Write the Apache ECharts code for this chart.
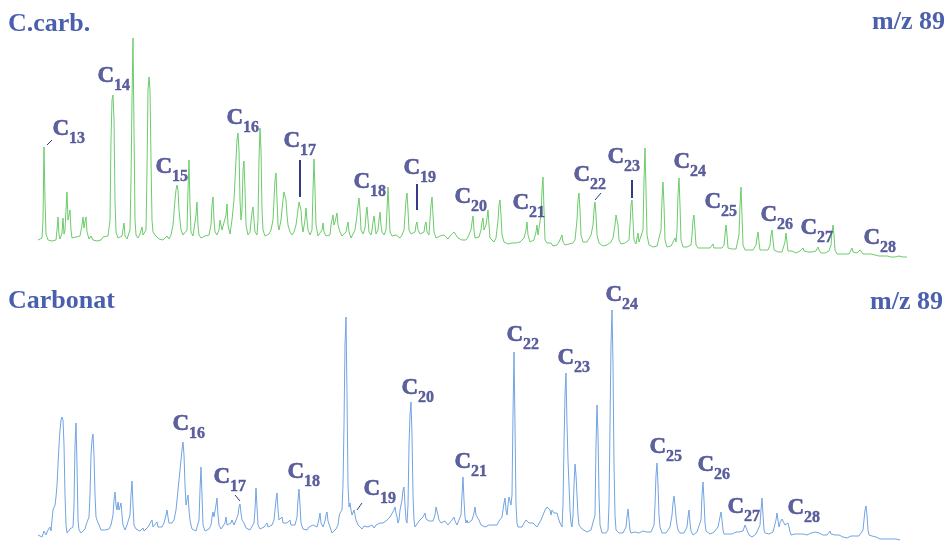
<!DOCTYPE html>
<html>
<head>
<meta charset="utf-8">
<script src="https://cdn.jsdelivr.net/npm/echarts@6/dist/echarts.min.js"></script>
<style>html,body{margin:0;padding:0;background:#fff}#c{width:949px;height:545px}</style>
</head>
<body>
<div id="c"></div>
<script>
// Retention time (arbitrary units) and signal for the C.carb. trace (m/z 89)
const ccarbTrace = [[38,20],[40,21],[42,22],[43,40],[44,113],[45,60],[46,26],[48,20],[50,22],[52,19],[54,21],[56,20],[57,30],[58,43],[59,25],[60,21],[62,27],[63,42],[64,26],[65,30],[66,50],[67,68],[68,40],[69,45],[70,50],[71,30],[72,22],[74,20],[76,23],[78,21],[80,24],[82,35],[83,43],[84,32],[85,38],[86,43],[87,28],[89,21],[91,24],[93,20],[95,22],[97,19],[99,21],[101,20],[103,23],[105,21],[108,24],[110,40],[111,120],[112,160],[113,165],[114,140],[115,60],[116,28],[118,22],[120,21],[122,24],[124,37],[125,24],[127,21],[129,22],[130,30],[131,80],[132,160],[133,222],[134,130],[135,40],[136,25],[138,22],[140,26],[142,33],[143,25],[145,23],[146,30],[147,90],[148,170],[149,183],[150,170],[151,100],[152,40],[153,28],[155,25],[157,24],[159,21],[161,23],[163,20],[165,22],[167,24],[169,21],[171,25],[173,35],[175,60],[176,70],[177,75],[178,70],[179,50],[180,40],[181,30],[183,25],[185,24],[187,30],[188,70],[189,100],[190,55],[191,28],[193,24],[195,26],[196,45],[197,58],[198,35],[199,25],[201,22],[203,21],[205,24],[207,22],[209,25],[211,35],[212,55],[213,63],[214,40],[215,28],[217,25],[219,30],[220,40],[221,38],[222,30],[224,28],[226,45],[227,56],[228,35],[230,26],[232,40],[234,60],[235,80],[236,100],[237,120],[238,127],[239,110],[240,60],[241,40],[242,50],[243,90],[244,99],[245,70],[246,35],[248,25],[250,28],[251,38],[252,48],[253,53],[254,40],[255,28],[257,25],[258,40],[259,100],[260,132],[261,110],[262,50],[263,30],[265,24],[267,22],[269,26],[271,30],[273,40],[274,60],[275,80],[276,87],[277,60],[278,35],[279,30],[281,40],[283,60],[284,68],[285,70],[286,60],[287,45],[288,35],[290,28],[292,25],[294,28],[296,35],[298,50],[299,58],[300,60],[301,50],[302,35],[303,28],[304,30],[305,40],[306,52],[307,40],[308,30],[310,25],[312,30],[313,70],[314,101],[315,70],[316,35],[318,24],[320,22],[322,30],[323,37],[324,28],[326,24],[328,22],[330,25],[331,35],[333,45],[334,35],[335,38],[337,47],[338,35],[340,28],[342,24],[344,22],[346,28],[348,38],[349,28],[351,22],[353,21],[355,30],[357,45],[358,55],[359,62],[360,50],[361,30],[363,26],[365,32],[366,45],[367,53],[368,40],[369,28],[371,25],[372,30],[373,38],[374,44],[375,35],[376,26],[378,30],[379,40],[380,48],[381,35],[382,28],[384,25],[386,30],[387,50],[388,73],[389,50],[390,28],[392,24],[394,22],[396,25],[398,23],[400,22],[402,25],[404,30],[405,45],[406,60],[407,67],[408,50],[409,30],[411,26],[413,24],[415,28],[416,35],[417,38],[418,30],[420,26],[422,25],[424,28],[425,35],[426,38],[427,28],[429,25],[430,40],[431,55],[432,63],[433,45],[434,28],[436,22],[438,21],[440,24],[442,22],[444,25],[446,23],[448,21],[450,24],[452,26],[454,28],[455,30],[456,26],[458,22],[460,24],[462,20],[464,22],[466,20],[468,23],[470,25],[471,30],[472,38],[473,44],[474,30],[475,22],[477,20],[479,23],[481,30],[482,38],[483,42],[484,30],[486,35],[487,42],[488,50],[489,35],[490,22],[492,20],[494,18],[496,22],[498,40],[499,55],[500,60],[501,45],[502,25],[504,18],[506,17],[508,16],[510,18],[512,17],[514,15],[516,17],[518,16],[520,18],[522,20],[524,22],[526,30],[527,38],[528,25],[530,18],[532,17],[534,20],[536,28],[537,35],[538,25],[539,25],[541,45],[542,70],[543,83],[544,50],[545,20],[547,17],[549,15],[551,17],[553,14],[555,16],[557,15],[559,18],[561,20],[562,25],[563,18],[565,15],[567,14],[569,16],[571,15],[573,17],[575,20],[577,40],[578,60],[579,67],[580,50],[581,25],[583,18],[585,16],[587,18],[589,20],[591,25],[593,35],[594,50],[595,58],[596,45],[597,25],[599,17],[601,15],[603,14],[605,16],[607,15],[609,17],[611,18],[613,22],[615,35],[616,45],[617,47],[618,35],[619,20],[621,16],[623,15],[625,17],[627,16],[629,20],[630,35],[631,55],[632,60],[633,40],[634,20],[636,16],[637,22],[638,27],[639,18],[641,18],[643,30],[644,80],[645,112],[646,70],[647,25],[649,15],[651,14],[653,13],[655,15],[657,14],[659,15],[661,30],[662,60],[663,78],[664,55],[665,20],[667,13],[669,12],[671,14],[673,16],[675,22],[676,18],[677,30],[678,65],[679,82],[680,55],[681,20],[683,13],[685,12],[687,13],[689,12],[691,15],[692,25],[693,40],[694,45],[695,30],[696,15],[698,12],[700,11],[702,12],[704,11],[706,12],[708,11],[710,12],[712,14],[713,16],[714,12],[716,11],[718,12],[720,11],[722,12],[724,15],[725,25],[726,35],[727,25],[728,12],[730,10],[732,11],[734,10],[736,11],[738,12],[739,25],[740,55],[741,73],[742,45],[743,15],[745,10],[747,9],[749,10],[751,9],[753,10],[755,11],[756,15],[757,22],[758,28],[759,18],[760,10],[762,9],[764,10],[766,9],[768,10],[770,15],[771,25],[772,30],[773,20],[774,10],[776,9],[778,8],[780,9],[782,8],[784,10],[785,18],[786,27],[787,18],[788,9],[790,8],[792,9],[794,8],[796,7],[798,8],[800,9],[802,10],[803,12],[804,9],[806,7],[808,8],[810,7],[812,8],[814,7],[816,9],[817,11],[818,13],[819,10],[821,7],[823,8],[825,7],[827,8],[829,9],[831,15],[832,28],[833,35],[834,25],[835,10],[837,6],[839,7],[841,6],[843,7],[845,6],[847,7],[849,6],[851,8],[852,12],[853,8],[855,6],[857,7],[859,9],[860,10],[861,8],[863,6],[865,5],[867,6],[869,5],[871,6],[873,5],[875,5],[877,6],[879,4],[881,5],[883,4],[885,5],[887,4],[889,4],[891,3],[893,4],[895,3],[897,3],[899,4],[901,3],[903,3],[905,3],[907,3]];

// Retention time and signal for the Carbonat trace (m/z 89)
const carbonatTrace = [[38,10],[40,12],[42,8],[44,14],[46,10],[48,15],[50,18],[51,14],[52,25],[53,35],[54,37],[55,40],[56,48],[57,60],[58,80],[59,100],[60,115],[61,125],[62,128],[63,125],[64,100],[65,50],[66,20],[67,12],[68,14],[70,16],[72,14],[73,18],[74,40],[75,100],[76,122],[77,80],[78,25],[79,15],[81,12],[83,14],[85,16],[86,20],[87,22],[88,20],[89,28],[90,50],[91,90],[92,105],[93,111],[94,90],[95,50],[96,28],[97,25],[98,27],[99,20],[101,15],[103,13],[105,15],[107,13],[109,16],[111,20],[113,30],[114,45],[115,53],[116,40],[117,35],[118,43],[119,35],[120,38],[121,42],[122,30],[123,20],[125,15],[127,20],[129,22],[130,30],[131,50],[132,64],[133,40],[134,20],[136,16],[138,15],[140,14],[142,16],[143,17],[144,14],[146,16],[148,18],[150,20],[152,25],[153,18],[155,20],[157,23],[158,18],[160,16],[162,18],[164,22],[166,30],[167,35],[168,28],[169,22],[170,20],[171,23],[172,22],[174,25],[176,35],[177,45],[178,55],[179,65],[180,75],[181,85],[182,95],[183,103],[184,90],[185,60],[186,40],[187,45],[188,50],[189,35],[190,25],[191,20],[192,16],[193,18],[194,15],[196,14],[198,16],[199,25],[200,55],[201,78],[202,50],[203,20],[205,14],[207,13],[209,16],[211,20],[212,28],[213,33],[214,28],[215,30],[216,40],[217,47],[218,30],[219,20],[221,16],[223,18],[225,22],[226,28],[227,20],[229,18],[231,22],[232,25],[233,27],[234,20],[236,22],[238,30],[239,38],[240,41],[241,32],[242,25],[244,22],[246,17],[247,18],[248,16],[250,15],[252,17],[254,22],[255,35],[256,57],[257,38],[258,20],[260,16],[262,15],[264,18],[266,20],[267,22],[268,18],[270,17],[272,20],[274,25],[275,35],[276,45],[277,52],[278,35],[279,25],[281,26],[282,28],[283,22],[285,20],[287,22],[289,24],[290,25],[291,20],[293,18],[295,20],[297,28],[298,45],[299,56],[300,40],[301,22],[303,16],[305,14],[307,15],[309,18],[311,16],[313,20],[315,22],[317,18],[319,26],[320,32],[321,22],[323,18],[325,24],[326,30],[327,33],[328,24],[330,18],[332,12],[334,14],[336,16],[338,20],[339,28],[340,32],[341,30],[342,35],[343,60],[344,120],[345,200],[346,228],[347,150],[348,60],[349,38],[350,42],[351,35],[352,30],[353,28],[354,35],[355,33],[356,25],[358,20],[360,18],[362,16],[364,19],[366,17],[368,18],[370,18],[372,20],[374,17],[376,20],[378,19],[380,22],[382,20],[383,22],[384,20],[386,24],[388,26],[390,28],[392,30],[394,35],[395,38],[396,32],[397,28],[398,22],[399,25],[400,35],[401,40],[402,45],[403,55],[404,58],[405,40],[406,25],[407,22],[408,40],[409,100],[410,130],[411,143],[412,110],[413,50],[414,25],[415,18],[417,20],[419,24],[421,26],[423,28],[424,30],[425,32],[426,26],[427,25],[428,28],[429,24],[431,22],[433,24],[435,30],[436,38],[437,40],[438,30],[439,25],[441,22],[443,20],[445,24],[447,25],[448,20],[450,22],[452,25],[454,28],[455,24],[457,20],[459,22],[461,30],[462,50],[463,68],[464,45],[465,28],[466,22],[467,25],[468,22],[470,20],[472,25],[474,32],[475,38],[476,30],[477,28],[479,25],[481,20],[483,22],[485,18],[487,17],[489,20],[491,18],[493,20],[495,22],[497,20],[499,24],[500,25],[501,22],[502,28],[503,35],[504,42],[505,47],[506,35],[507,30],[508,40],[509,48],[510,50],[511,40],[512,50],[513,130],[514,193],[515,120],[516,40],[517,22],[518,18],[520,20],[522,18],[524,22],[526,25],[527,26],[528,27],[529,22],[531,20],[533,22],[535,20],[537,18],[539,20],[541,25],[543,30],[545,35],[547,38],[548,40],[549,40],[550,35],[551,30],[552,35],[554,32],[556,30],[557,32],[558,28],[560,22],[562,18],[563,40],[564,100],[565,150],[566,172],[567,120],[568,85],[569,60],[570,35],[571,22],[572,18],[573,30],[574,60],[575,81],[576,70],[577,50],[578,30],[579,20],[580,18],[582,16],[584,15],[587,13],[589,14],[591,15],[593,16],[595,30],[596,100],[597,140],[598,110],[599,50],[600,20],[602,12],[604,13],[606,12],[608,15],[609,40],[610,120],[611,200],[612,235],[613,180],[614,80],[615,30],[616,15],[617,13],[619,12],[621,13],[623,12],[625,14],[626,18],[627,28],[628,36],[629,25],[630,15],[631,12],[633,12],[635,13],[637,14],[639,12],[641,13],[643,14],[645,12],[647,13],[649,14],[651,13],[653,15],[654,20],[655,40],[656,70],[657,82],[658,60],[659,30],[660,18],[662,12],[664,13],[666,12],[668,14],[670,18],[672,30],[673,42],[674,49],[675,40],[676,28],[677,20],[678,15],[680,12],[682,11],[684,12],[686,13],[687,18],[688,28],[689,35],[690,22],[691,14],[693,10],[695,12],[697,13],[699,15],[701,25],[702,50],[703,63],[704,45],[705,22],[706,14],[708,12],[710,11],[712,12],[714,13],[716,14],[718,18],[720,28],[721,33],[722,25],[723,15],[724,11],[726,10],[728,11],[730,12],[732,11],[734,12],[736,13],[737,12],[739,13],[741,12],[743,14],[744,16],[745,20],[746,22],[747,15],[749,10],[751,9],[752,8],[754,10],[756,11],[758,12],[760,20],[761,35],[762,47],[763,30],[764,15],[765,12],[767,10],[769,11],[771,12],[773,13],[775,15],[776,25],[777,32],[778,25],[779,18],[780,22],[781,24],[782,26],[783,27],[784,24],[785,20],[786,18],[787,20],[788,22],[789,18],[790,13],[791,10],[793,10],[795,11],[797,12],[799,11],[801,13],[803,11],[805,12],[807,10],[809,11],[811,12],[813,11],[815,13],[817,11],[819,12],[820,14],[821,11],[823,10],[825,11],[827,10],[829,12],[830,14],[831,11],[833,9],[835,10],[837,9],[839,10],[841,9],[843,8],[845,9],[847,7],[849,8],[851,9],[853,8],[855,9],[857,8],[859,9],[861,10],[863,15],[864,25],[865,35],[866,39],[867,30],[868,15],[869,10],[870,8],[872,9],[874,7],[876,8],[878,7],[880,6],[882,7],[884,6],[886,7],[888,6],[890,5],[892,6],[894,5],[896,6],[898,5],[900,5]];

// Peak labels (carbon number) with their annotation anchor [time, signal]
const ccarbLabels = [["13",52,127.5],["14",97,181],["15",155,90],["16",226,138.5],["17",283,115.5],["18",353,75],["19",403,88.5],["20",454,60],["21",512,53.5],["22",573,81.5],["23",607,100],["24",673,95],["25",704,54.5],["26",760,41.5],["27",800,28.5],["28",863,18.5]];
const carbonatLabels = [["16",172,117.5],["17",213,65],["18",287,70],["19",363,53],["20",401,153.5],["21",454,80],["22",506,206.5],["23",557,184],["24",605,246.5],["25",649,95],["26",697,76.5],["27",727,35],["28",787,33.5]];

// Leader lines [t1, s1, t2, s2, width]
const ccarbLeaders = [[47,115,52,120,1],[300,100,300,63,2],[417,76,417,50,2],[595,60,601,67,1],[632,80,632,62,2]];
const carbonatLeaders = [[235,50,240,44,1],[357,35,362,42,1]];

const titles = ["C.carb.", "m/z 89", "Carbonat", "m/z 89"];

const LABEL_COLOR = '#343a86';
const TITLE_COLOR = '#4a5fae';
const SERIF = '"Liberation Serif","Times New Roman",serif';

function leaderData(arr) {
  return arr.map(l => [
    {coord: [l[0], l[1]], lineStyle: {width: l[4], color: LABEL_COLOR}},
    {coord: [l[2], l[3]]}
  ]);
}
function labelSeries(arr, idx) {
  return {
    type: 'scatter', xAxisIndex: idx, yAxisIndex: idx, symbolSize: 1,
    itemStyle: {color: 'rgba(0,0,0,0)'}, silent: true, z: 5,
    data: arr.map(a => ({name: a[0], value: [a[1], a[2]]})),
    label: {
      show: true, position: 'right', distance: 0,
      formatter: p => '{c|C}{s|' + p.name + '}',
      rich: {
        c: {fontFamily: SERIF, fontWeight: 'bold', fontSize: 23, color: LABEL_COLOR, lineHeight: 26, verticalAlign: 'top', textBorderColor: LABEL_COLOR, textBorderWidth: 0.6},
        s: {fontFamily: SERIF, fontWeight: 'bold', fontSize: 16, color: LABEL_COLOR, padding: [13, 0, 0, 0], verticalAlign: 'top', textBorderColor: LABEL_COLOR, textBorderWidth: 0.4}
      }
    }
  };
}

const chart = echarts.init(document.getElementById('c'), null, {renderer: 'canvas'});
const tStyle = {fontFamily: SERIF, fontWeight: 'bold', fontSize: 26, color: TITLE_COLOR};
chart.setOption({
  animation: false,
  backgroundColor: '#fff',
  title: [
    {text: titles[0], left: 8, top: 11, padding: 0, textStyle: tStyle},
    {text: titles[1], right: 4, top: 9, padding: 0, textStyle: tStyle},
    {text: titles[2], left: 8, top: 288, padding: 0, textStyle: tStyle},
    {text: titles[3], right: 6, top: 289, padding: 0, textStyle: tStyle}
  ],
  grid: [
    {left: 0, right: 0, top: 0, height: 260},
    {left: 0, right: 0, top: 280, height: 265}
  ],
  xAxis: [
    {type: 'value', gridIndex: 0, min: 0, max: 949, show: false},
    {type: 'value', gridIndex: 1, min: 0, max: 949, show: false}
  ],
  yAxis: [
    {type: 'value', gridIndex: 0, min: 0, max: 260, show: false},
    {type: 'value', gridIndex: 1, min: 0, max: 265, show: false}
  ],
  series: [
    {
      type: 'line', xAxisIndex: 0, yAxisIndex: 0, data: ccarbTrace, showSymbol: false, silent: true,
      lineStyle: {color: '#6ccc6c', width: 1}, itemStyle: {color: '#6ccc6c'},
      markLine: {silent: true, symbol: 'none', label: {show: false}, lineStyle: {type: 'solid', color: LABEL_COLOR}, data: leaderData(ccarbLeaders)}
    },
    {
      type: 'line', xAxisIndex: 1, yAxisIndex: 1, data: carbonatTrace, showSymbol: false, silent: true,
      lineStyle: {color: '#72a4e2', width: 1}, itemStyle: {color: '#72a4e2'},
      markLine: {silent: true, symbol: 'none', label: {show: false}, lineStyle: {type: 'solid', color: LABEL_COLOR}, data: leaderData(carbonatLeaders)}
    },
    labelSeries(ccarbLabels, 0),
    labelSeries(carbonatLabels, 1)
  ]
});
</script>
</body>
</html>
